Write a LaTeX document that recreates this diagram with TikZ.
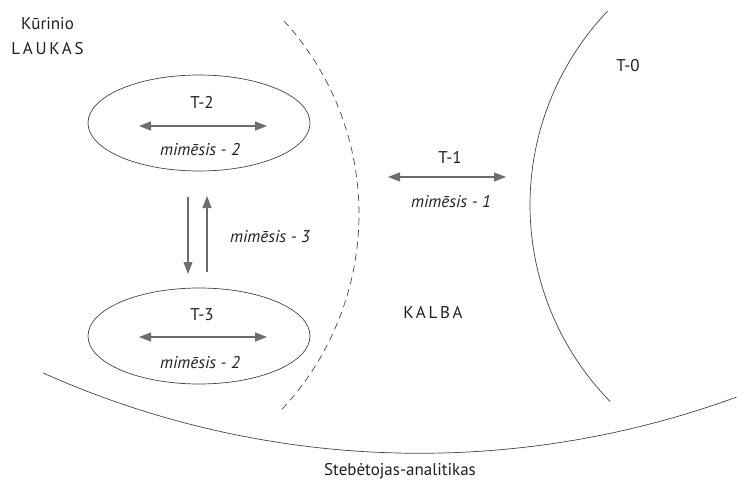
\documentclass[tikz,border=0pt]{standalone}
\usepackage{fontspec}
\setmainfont{PT Sans}
\usetikzlibrary{shapes.geometric,arrows.meta}
\definecolor{ink}{HTML}{231F20}
\definecolor{linec}{HTML}{444444}
\definecolor{arr}{HTML}{6D6D6D}
\begin{document}
\begin{tikzpicture}[x=1pt,y=-1pt,
  lbl/.style={text=ink,font=\fontsize{17}{20}\selectfont,inner sep=0pt},
  mim/.style={text=ink,font=\fontsize{17}{20}\selectfont\itshape,inner sep=0pt},
  spaced/.style={text=ink,font=\fontsize{17}{20}\selectfont\addfontfeature{LetterSpace=16},inner sep=0pt},
  oval/.style={ellipse,draw=linec,line width=0.7pt,minimum width=222pt,minimum height=96pt,inner sep=0pt},
  curve/.style={draw=linec,line width=0.7pt},
  twoway/.style={draw=arr,line width=1.1pt,{Triangle[length=12pt,width=9pt]}-{Triangle[length=12pt,width=9pt]}},
  oneway/.style={draw=arr,line width=1.1pt,-{Triangle[length=12pt,width=9pt]}}]
\useasboundingbox (0,0) rectangle (737,487);

% curves
\draw[curve,dash pattern=on 7pt off 5pt] plot[domain=-42.5:43,samples=80,smooth] ({73+286*cos(\x)},{214+286*sin(\x)});
\draw[curve] plot[domain=135.6:223.6,samples=80,smooth] ({811+281*cos(\x)},{205+281*sin(\x)});
\draw[curve] plot[domain=69.9:114.1,samples=100,smooth] ({419.5+922.6*cos(\x)},{-469.3+922.6*sin(\x)});

% ellipses
\node[oval] (e2) at (199,123) {};
\node[oval] (e3) at (199,336) {};

% labels
\node[lbl] (kur) at (47.5,24) {Kūrinio};
\node[spaced] (lau) at (47.5,49) {LAUKAS};
\node[lbl] (t2) at (202,102) {T-2};
\node[mim] (m2a) at (200,150) {mimēsis - 2};
\node[lbl] (t3) at (202,315) {T-3};
\node[mim] (m2b) at (200,363) {mimēsis - 2};
\node[mim] (m3) at (270,237) {mimēsis - 3};
\node[lbl] (t1) at (450,157) {T-1};
\node[mim] (m1) at (451,202) {mimēsis - 1};
\node[lbl] (t0) at (628,66) {T-0};
\node[spaced] (kalba) at (433,313) {KALBA};
\node[lbl] (obs) at (400,471) {Stebėtojas-analitikas};

% arrow ends
\coordinate (a2l) at (139,126);
\coordinate (a2r) at (267,126);
\coordinate (a3l) at (139,337);
\coordinate (a3r) at (267,337);
\coordinate (a1l) at (388,177);
\coordinate (a1r) at (506,177);
\coordinate (dtop) at (188,197);
\coordinate (dbot) at (188,274);
\coordinate (ubot) at (207,272);
\coordinate (utop) at (207,196);

\draw[twoway] (a2l) -- (a2r);
\draw[twoway] (a3l) -- (a3r);
\draw[twoway] (a1l) -- (a1r);
\draw[oneway] (dtop) -- (dbot);
\draw[oneway] (ubot) -- (utop);
\end{tikzpicture}
\end{document}
